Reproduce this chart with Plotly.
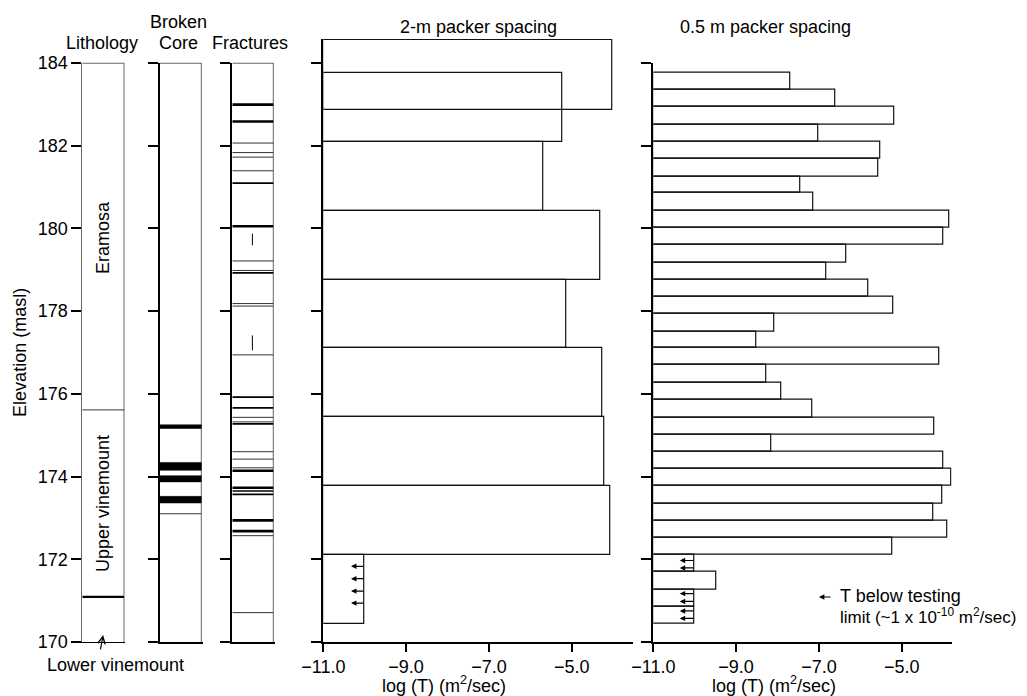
import plotly.graph_objects as go

# ---------------- data ----------------
elev_ticks = [170, 172, 174, 176, 178, 180, 182, 184]
x_ticks = [-11, -9, -7, -5]

lith_units = ["Eramosa", "Upper vinemount", "Lower vinemount"]
lith_label_elev = [179.77, 173.34]
lith_contacts = [175.61, 171.09]
lith_contact_rank = [1, 3]

broken_top = [175.25, 174.34, 174.02, 173.52]
broken_bottom = [175.16, 174.15, 173.87, 173.36]
broken_base = [173.10]

frac_elev = [182.99, 182.58, 182.06, 181.83, 181.72, 181.39, 181.09, 180.05,
             179.21, 178.98, 178.92, 178.18, 178.12, 176.94, 175.92, 175.66,
             175.43, 175.32, 175.27, 174.60, 174.42, 174.21, 174.14, 173.73,
             173.65, 173.57, 172.94, 172.68, 172.57, 170.71]
frac_rank = [3, 3, 1, 1, 1, 1, 2, 3,
             1, 1, 2, 1, 1, 1, 2, 2,
             1, 1, 2, 1, 1, 1, 3, 3,
             2, 2, 3, 3, 1, 1]
vert_frac_top = [179.87, 177.41]
vert_frac_bottom = [179.59, 177.05]

two_m_top = [184.54, 183.76, 182.08, 180.42, 178.76, 177.10, 175.44, 173.76, 172.10]
two_m_bottom = [182.87, 182.08, 180.42, 178.76, 177.10, 175.44, 173.76, 172.10, 170.43]
two_m_logT = [-4.01, -5.22, -5.69, -4.30, -5.12, -4.27, -4.21, -4.06, -10.0]
two_m_limit_elev = [171.83, 171.53, 171.23, 170.94]

half_m_bounds = [183.77, 183.35, 182.93, 182.51, 182.09, 181.67, 181.25, 180.85,
                 180.43, 180.01, 179.59, 179.17, 178.76, 178.35, 177.94, 177.51,
                 177.10, 176.69, 176.27, 175.85, 175.43, 175.01, 174.59, 174.19,
                 173.77, 173.35, 172.93, 172.51, 172.10, 171.69, 171.27, 170.86,
                 170.44]
half_m_logT = [-7.69, -6.60, -5.18, -7.01, -5.52, -5.57, -7.45, -7.14,
               -3.85, -3.99, -6.35, -6.81, -5.81, -5.21, -8.07, -8.51,
               -4.09, -8.27, -7.90, -7.16, -4.21, -8.16, -3.99, -3.79,
               -4.02, -4.23, -3.91, -5.23, -10.0, -9.47, -10.0, -10.0]
half_m_limit_elev = [171.97, 171.79, 171.17, 170.98, 170.75, 170.57]
test_limit = -10.0

# ---------------- layout geometry ----------------
OFF = 8                 # page offset of the plot div (body margin)
W, H = 1027 - OFF, 696 - OFF
PLOT_TOP, PLOT_BOT = 38.5, 641.7      # page pixels of the plotting area
T = PLOT_TOP - OFF
B = H - (PLOT_BOT - OFF)
PH = H - T - B
SCALE = 41.386          # px per metre (shared vertical scale)
XS = 41.4               # px per log unit
FONT = "Liberation Sans, Arial, Helvetica, sans-serif"
FS = 18
THIN = "#333333"


def px(xp):
    return (xp - OFF) / W


def py(yp):
    return (PLOT_BOT - yp) / PH


col_dom = [0, 14 * SCALE / PH]
EXT = 1.03

fig = go.Figure()

# ---- column boxes (right and top borders) ----
for n in ["", "2", "3"]:
    fig.add_trace(go.Scatter(x=[1, 1], y=[170, 184], mode="lines",
                             line=dict(color="#666666", width=1),
                             xaxis="x" + n, yaxis="y" + n, hoverinfo="skip"))
    fig.add_trace(go.Scatter(x=[0, 1], y=[184, 184], mode="lines",
                             line=dict(color="#666666", width=2),
                             xaxis="x" + n, yaxis="y" + n, hoverinfo="skip"))

# ---- lithology contacts ----
for e, r in zip(lith_contacts, lith_contact_rank):
    fig.add_trace(go.Scatter(x=[0, 1], y=[e, e], mode="lines",
                             line=dict(color=THIN if r == 1 else "black",
                                       width=1.0 if r == 1 else 2.2),
                             xaxis="x", yaxis="y", hoverinfo="skip"))

# ---- broken core ----
for t, b in zip(broken_top, broken_bottom):
    fig.add_trace(go.Scatter(x=[0, 1, 1, 0, 0], y=[b, b, t, t, b], mode="lines",
                             fill="toself", fillcolor="black",
                             line=dict(color="black", width=0.5),
                             xaxis="x2", yaxis="y2", hoverinfo="skip"))
for e in broken_base:
    fig.add_trace(go.Scatter(x=[0, 1], y=[e, e], mode="lines",
                             line=dict(color=THIN, width=1),
                             xaxis="x2", yaxis="y2", hoverinfo="skip"))

# ---- fractures ----
rank_style = {1: (THIN, 1.0), 2: ("black", 1.7), 3: ("black", 2.6)}
for rk, (colr, wd) in rank_style.items():
    xs, ys = [], []
    for e, r in zip(frac_elev, frac_rank):
        if r == rk:
            xs += [0, 1, None]
            ys += [e, e, None]
    fig.add_trace(go.Scatter(x=xs, y=ys, mode="lines",
                             line=dict(color=colr, width=wd),
                             xaxis="x3", yaxis="y3", hoverinfo="skip"))
xs, ys = [], []
for t, b in zip(vert_frac_top, vert_frac_bottom):
    xs += [0.49, 0.49, None]
    ys += [t, b, None]
fig.add_trace(go.Scatter(x=xs, y=ys, mode="lines", line=dict(color="black", width=1),
                         xaxis="x3", yaxis="y3", hoverinfo="skip"))

# ---- packer test bars ----
x0 = -11.0
fig.add_trace(go.Bar(
    orientation="h",
    y=[(t + b) / 2 for t, b in zip(two_m_top, two_m_bottom)],
    width=[t - b for t, b in zip(two_m_top, two_m_bottom)],
    x=[v - x0 for v in two_m_logT], base=x0,
    marker=dict(color="rgba(0,0,0,0)", line=dict(color="#111111", width=1.2)),
    cliponaxis=False, xaxis="x4", yaxis="y4", hoverinfo="skip"))

h_top = half_m_bounds[:-1]
h_bot = half_m_bounds[1:]
fig.add_trace(go.Bar(
    orientation="h",
    y=[(t + b) / 2 for t, b in zip(h_top, h_bot)],
    width=[t - b for t, b in zip(h_top, h_bot)],
    x=[v - x0 for v in half_m_logT], base=x0,
    marker=dict(color="rgba(0,0,0,0)", line=dict(color="#111111", width=1.2)),
    cliponaxis=False, xaxis="x5", yaxis="y5", hoverinfo="skip"))

# ---- annotations ----
ann = []
ARROW_LEN = 0.33
arrow_style = dict(text="", showarrow=True, arrowhead=2, arrowsize=0.9, arrowwidth=1.2,
                   arrowcolor="black", standoff=0, startstandoff=0)
for e in two_m_limit_elev:
    ann.append(dict(x=test_limit - ARROW_LEN, y=e, ax=test_limit, ay=e,
                    xref="x4", yref="y4", axref="x4", ayref="y4", **arrow_style))
for e in half_m_limit_elev:
    ann.append(dict(x=test_limit - ARROW_LEN - 0.03, y=e, ax=test_limit, ay=e,
                    xref="x5", yref="y5", axref="x5", ayref="y5", **arrow_style))


def label(text, x, y, xref="paper", yref="paper", xanchor="center", angle=0, size=FS):
    return dict(text=text, x=x, y=y, xref=xref, yref=yref, xanchor=xanchor,
                yanchor="middle", textangle=angle, showarrow=False,
                font=dict(family=FONT, size=size, color="black"))


# column titles
ann.append(label("Lithology", px(102), py(43)))
ann.append(label("Broken", px(178), py(21)))
ann.append(label("Core", px(178), py(43)))
ann.append(label("Fractures", px(250), py(43)))
ann.append(label("2-m packer spacing", px(478.3), py(26)))
ann.append(label("0.5 m packer spacing", px(765.3), py(26)))
# lithology unit names
ann.append(label(lith_units[0], 0.5, lith_label_elev[0], "x", "y", angle=-90))
ann.append(label(lith_units[1], 0.5, lith_label_elev[1], "x", "y", angle=-90))
ann.append(label(lith_units[2], px(115), py(665)))
ann.append(dict(x=0.5, y=170.17, xref="x", yref="y", ax=-3, ay=16, text="",
                showarrow=True, arrowhead=5, arrowsize=1.2, arrowwidth=1.2,
                arrowcolor="black", standoff=0, startstandoff=0))
# y title
ann.append(label("Elevation (masl)", px(20), py(352.5), angle=-90))
# x titles
xtitle = "log (T) (m<sup>2</sup>/sec)"
ann.append(label(xtitle, px(444), py(684.3)))
ann.append(label(xtitle, px(774), py(684.3)))
# legend
ann.append(dict(x=px(819), y=py(596.7), xref="paper", yref="paper", ax=13, ay=0,
                **arrow_style))
ann.append(label("T below testing", px(838), py(596), xanchor="left"))
ann.append(label("limit (~1 x 10<sup>-10</sup> m<sup>2</sup>/sec)", px(838), py(616),
                 xanchor="left", size=17))

# ---- axes ----
tickfont = dict(family=FONT, size=FS, color="black")


def col_x(left, width, n, lw):
    return dict(domain=[px(left), px(left + EXT * width)], range=[0, EXT],
                showgrid=False, zeroline=False, showticklabels=False, ticks="",
                showline=True, linecolor="black", linewidth=lw, automargin=False,
                anchor="y" + n, fixedrange=True)


def col_y(n, linecolor, lw, labels, dom, rng):
    return dict(domain=dom, range=rng, tickvals=elev_ticks, ticks="outside",
                ticklen=10, tickwidth=1.6, tickcolor="black",
                showticklabels=labels, tickfont=tickfont, automargin=False,
                showline=True, linecolor=linecolor, linewidth=lw,
                showgrid=False, zeroline=False, anchor="x" + n, fixedrange=True)


def log_x(left, right, n):
    return dict(domain=[px(left), px(right)], range=[-11, -11 + (right - left) / XS],
                tickvals=x_ticks, tickformat=".1f", ticks="outside", ticklen=8,
                tickwidth=1.6, tickcolor="black", tickfont=tickfont, automargin=False,
                showline=True, linecolor="black", linewidth=1.6,
                showgrid=False, zeroline=False, anchor="y" + n, fixedrange=True)


top_2m = 170 + PH / SCALE

fig.update_layout(
    width=W, height=H,
    margin=dict(l=0, r=0, t=T, b=B, pad=0, autoexpand=False),
    paper_bgcolor="white", plot_bgcolor="white",
    showlegend=False,
    font=dict(family=FONT, size=FS, color="black"),
    xaxis=col_x(82.3, 41.7, "", 1.2),
    yaxis=col_y("", "#666666", 1, True, col_dom, [170, 184]),
    xaxis2=col_x(160, 41.3, "2", 1.6),
    yaxis2=col_y("2", "black", 2, False, col_dom, [170, 184]),
    xaxis3=col_x(232.3, 41, "3", 1.6),
    yaxis3=col_y("3", "black", 2, False, col_dom, [170, 184]),
    xaxis4=log_x(323.3, 633, "4"),
    yaxis4=col_y("4", "black", 2, False, [0, 1], [170, top_2m]),
    xaxis5=log_x(653.3, 951.7, "5"),
    yaxis5=col_y("5", "black", 2, False, col_dom, [170, 184]),
    annotations=ann,
    bargap=0,
)

fig.write_html("out.html")
